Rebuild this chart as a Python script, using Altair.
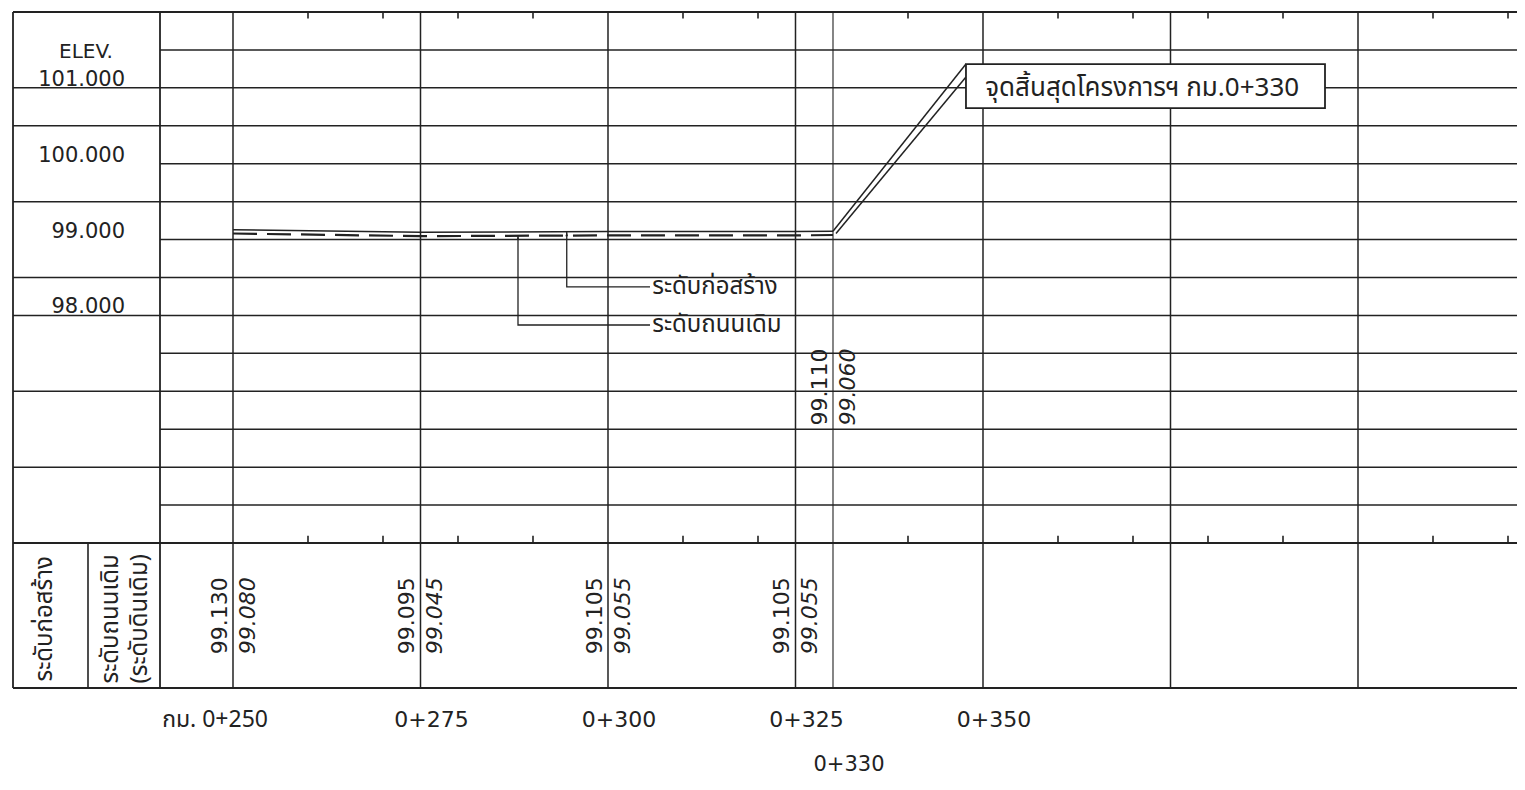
import altair as alt
import pandas as pd

# ---------------- data ----------------
STATIONS = [250, 275, 300, 325, 330]                 # chainage (m)
CONSTRUCTION = [99.130, 99.095, 99.105, 99.105, 99.110]   # ระดับก่อสร้าง
EXISTING = [99.080, 99.045, 99.055, 99.055, 99.060]       # ระดับถนนเดิม
STATION_LINES = [250, 275, 300, 325, 350, 375, 400]
LABEL_STATIONS = [250, 275, 300, 325, 350]
STATION_LABELS = ["กม. 0+250", "0+275", "0+300", "0+325", "0+350"]
END_STATION = 330
END_LABEL = "0+330"
TICKS = [260, 270, 280, 290, 310, 320, 340, 360, 370, 380, 390, 410, 420]
ELEV_VALUES = [101, 100, 99, 98]
ELEV_LABELS = ["101.000", "100.000", "99.000", "98.000"]
GRID_ELEV = [95.5, 96.0, 96.5, 97.0, 97.5, 98.0, 98.5, 99.0, 99.5, 100.0, 100.5, 101.0, 101.5]
LEFT_COL_ELEV = [101.0, 100.5, 99.5, 98.5, 98.0, 97.0, 96.0]
CALLOUT_TEXT = "จุดสิ้นสุดโครงการฯ กม.0+330"
LEADER_NAMES = ["ระดับก่อสร้าง", "ระดับถนนเดิม"]
ROW_HEAD_1 = "ระดับก่อสร้าง"
ROW_HEAD_2 = ["ระดับถนนเดิม", "(ระดับดินเดิม)"]

# ---------------- layout constants (scale units) ----------------
X_FRAME = 220.667      # left outer border
X_MID = 230.667        # divider between the two row headers
X_COL = 240.267        # right edge of label column
X_END = 421.2          # right end of plot
Y_TOP = 102.0
Y_PROF = 95.0
Y_TAB = 93.088
Y_MIN = 91.849
Y_TABLE_TEXT = 94.04
Y_PROF_TEXT = 97.056
Y_STATION = 92.667
Y_END_LABEL = 92.07

FONT = "DejaVu Sans"
THAI = "Noto Sans Thai, Loma, Garuda, Norasi, Tlwg Typo, DejaVu Sans, sans-serif"
INK = "#222222"

xs = alt.Scale(domain=[X_FRAME, X_END], nice=False, zero=False)
ys = alt.Scale(domain=[Y_MIN, Y_TOP], nice=False, zero=False)


def X(f):
    return alt.X(f, type="quantitative", scale=xs, axis=None)


def Y(f):
    return alt.Y(f, type="quantitative", scale=ys, axis=None)


# horizontal rules
h_rows = []
for e in GRID_ELEV:
    h_rows.append({"x": X_COL, "x2": X_END, "y": e, "w": 1.5})
for e in LEFT_COL_ELEV:
    h_rows.append({"x": X_FRAME, "x2": X_COL, "y": e, "w": 1.5})
for e in [Y_TOP, Y_PROF, Y_TAB]:
    h_rows.append({"x": X_FRAME, "x2": X_END, "y": e, "w": 1.8})
h_df = pd.DataFrame(h_rows)

hrules = alt.Chart(h_df).mark_rule(color=INK).encode(
    x=X("x"), x2="x2", y=Y("y"), strokeWidth=alt.StrokeWidth("w:Q", scale=None)
)

# vertical rules
v_rows = [{"x": X_FRAME, "y": Y_TOP, "y2": Y_TAB, "w": 1.8},
          {"x": X_COL, "y": Y_TOP, "y2": Y_TAB, "w": 1.8},
          {"x": X_MID, "y": Y_PROF, "y2": Y_TAB, "w": 1.6}]
for s in STATION_LINES:
    v_rows.append({"x": s, "y": Y_TOP, "y2": Y_TAB, "w": 1.5})
v_rows.append({"x": END_STATION, "y": Y_TOP, "y2": Y_TAB, "w": 1.1})
v_df = pd.DataFrame(v_rows)
vrules = alt.Chart(v_df).mark_rule(color=INK).encode(
    x=X("x"), y=Y("y"), y2="y2", strokeWidth=alt.StrokeWidth("w:Q", scale=None)
)

# ticks
tick_rows = []
for t in TICKS:
    tick_rows.append({"x": t, "y": Y_TOP, "y2": Y_TOP - 0.085})
    tick_rows.append({"x": t, "y": Y_PROF, "y2": Y_PROF + 0.095})
ticks = alt.Chart(pd.DataFrame(tick_rows)).mark_rule(color=INK, strokeWidth=1.6).encode(
    x=X("x"), y=Y("y"), y2="y2"
)

prof_df = pd.DataFrame({"station": STATIONS, "construction": CONSTRUCTION, "existing": EXISTING})
line_con = alt.Chart(prof_df).mark_line(color=INK, strokeWidth=1.5).encode(
    x=X("station"), y=Y("construction")
)
line_ex = alt.Chart(prof_df).mark_line(color=INK, strokeWidth=2.2, strokeDash=[24, 10]).encode(
    x=X("station"), y=Y("existing")
)

# callout leader (double line) and box
callout_leader = pd.DataFrame({
    "x": [330.0, 347.73, 330.4, 347.73],
    "y": [99.110, 101.314, 99.080, 101.143],
    "g": ["a", "a", "b", "b"],
})
leader_c = alt.Chart(callout_leader).mark_line(color=INK, strokeWidth=1.5).encode(
    x=X("x"), y=Y("y"), detail="g:N"
)
box_df = pd.DataFrame({"x": [347.73], "x2": [395.6], "y": [101.314], "y2": [100.734]})
box = alt.Chart(box_df).mark_rect(fill="white", stroke=INK, strokeWidth=1.8).encode(
    x=X("x"), x2="x2", y=Y("y"), y2="y2"
)
callout_txt = alt.Chart(pd.DataFrame({"x": [350.3], "y": [101.0], "t": [CALLOUT_TEXT]})).mark_text(
    align="left", baseline="middle", font=THAI, fontSize=26, color=INK
).encode(x=X("x"), y=Y("y"), text="t:N")

# level leaders
lead_df = pd.DataFrame({
    "x": [294.5, 294.5, 305.6, 288.0, 288.0, 305.6],
    "y": [99.10, 98.375, 98.375, 99.05, 97.874, 97.874],
    "g": ["c", "c", "c", "e", "e", "e"],
    "o": [0, 1, 2, 0, 1, 2],
})
leaders = alt.Chart(lead_df).mark_line(color=INK, strokeWidth=1.3).encode(
    x=X("x"), y=Y("y"), detail="g:N", order="o:Q"
)
arrow_df = pd.DataFrame({"x": [294.5, 288.0], "y": [99.10, 99.05]})
arrows = alt.Chart(arrow_df).mark_point(
    shape="M0,0L-0.45,1.4L0.45,1.4Z", filled=True, size=36, color=INK, opacity=1
).encode(x=X("x"), y=Y("y"))
lead_txt = alt.Chart(pd.DataFrame({"x": [305.9, 305.9], "y": [98.375, 97.874], "t": LEADER_NAMES})).mark_text(
    align="left", baseline="middle", font=THAI, fontSize=24, color=INK
).encode(x=X("x"), y=Y("y"), text="t:N")

# elevation labels
elev_df = pd.DataFrame({"x": [235.6] * 4, "y": ELEV_VALUES, "t": ELEV_LABELS})
elev_txt = alt.Chart(elev_df).mark_text(
    align="right", baseline="alphabetic", dy=-2, font=FONT, fontSize=21, color=INK
).encode(x=X("x"), y=Y("y"), text="t:N")
elev_head = alt.Chart(pd.DataFrame({"x": [230.4], "y": [101.473], "t": ["ELEV."]})).mark_text(
    align="center", baseline="middle", font=FONT, fontSize=20, color=INK
).encode(x=X("x"), y=Y("y"), text="t:N")

# table values (rotated; dy acts across the rotated text)
tab_df = pd.DataFrame({
    "station": STATIONS[:4],
    "con": [f"{v:.3f}" for v in CONSTRUCTION[:4]],
    "ex": [f"{v:.3f}" for v in EXISTING[:4]],
    "y": [Y_TABLE_TEXT] * 4,
})
tab_con = alt.Chart(tab_df).mark_text(
    angle=270, align="center", baseline="bottom", dy=-1, font=FONT, fontSize=22, color=INK
).encode(x=X("station"), y=Y("y"), text="con:N")
tab_ex = alt.Chart(tab_df).mark_text(
    angle=270, align="center", baseline="top", dy=5, font=FONT, fontSize=22, fontStyle="italic", color=INK
).encode(x=X("station"), y=Y("y"), text="ex:N")

end_df = pd.DataFrame({
    "station": [STATIONS[4]],
    "con": [f"{CONSTRUCTION[4]:.3f}"],
    "ex": [f"{EXISTING[4]:.3f}"],
    "y": [Y_PROF_TEXT],
})
end_con = alt.Chart(end_df).mark_text(
    angle=270, align="center", baseline="bottom", dy=-1, font=FONT, fontSize=22, color=INK
).encode(x=X("station"), y=Y("y"), text="con:N")
end_ex = alt.Chart(end_df).mark_text(
    angle=270, align="center", baseline="top", dy=5, font=FONT, fontSize=22, fontStyle="italic", color=INK
).encode(x=X("station"), y=Y("y"), text="ex:N")

# row headers
rh_df = pd.DataFrame({
    "x": [224.93, 233.73, 237.6],
    "y": [94.0] * 3,
    "t": [ROW_HEAD_1] + ROW_HEAD_2,
})
row_head = alt.Chart(rh_df).mark_text(
    angle=270, align="center", baseline="middle", font=THAI, fontSize=24, color=INK
).encode(x=X("x"), y=Y("y"), text="t:N")

# station labels
st_df = pd.DataFrame({"station": LABEL_STATIONS[1:], "t": STATION_LABELS[1:], "y": [Y_STATION] * 4})
st_txt = alt.Chart(st_df).mark_text(
    align="center", baseline="middle", dx=11, font=FONT, fontSize=22, color=INK
).encode(x=X("station"), y=Y("y"), text="t:N")
st_first = alt.Chart(pd.DataFrame({"station": [LABEL_STATIONS[0]], "t": [STATION_LABELS[0]], "y": [Y_STATION]})).mark_text(
    align="right", baseline="middle", dx=35, font=THAI, fontSize=23, color=INK
).encode(x=X("station"), y=Y("y"), text="t:N")
st_end = alt.Chart(pd.DataFrame({"station": [END_STATION], "t": [END_LABEL], "y": [Y_END_LABEL]})).mark_text(
    align="center", baseline="middle", dx=16, font=FONT, fontSize=21, color=INK
).encode(x=X("station"), y=Y("y"), text="t:N")

chart = alt.layer(
    hrules, vrules, ticks, line_con, line_ex, leader_c, box, callout_txt,
    leaders, arrows, lead_txt, elev_txt, elev_head, tab_con, tab_ex,
    end_con, end_ex, row_head, st_txt, st_first, st_end,
).properties(
    width=1504, height=770,
    padding={"left": 5, "top": 4, "right": 0, "bottom": 0},
    autosize=alt.AutoSizeParams(type="none"),
    background="white",
).configure_view(stroke=None)

chart.save("out.html", embed_options={"renderer": "svg", "actions": False})
